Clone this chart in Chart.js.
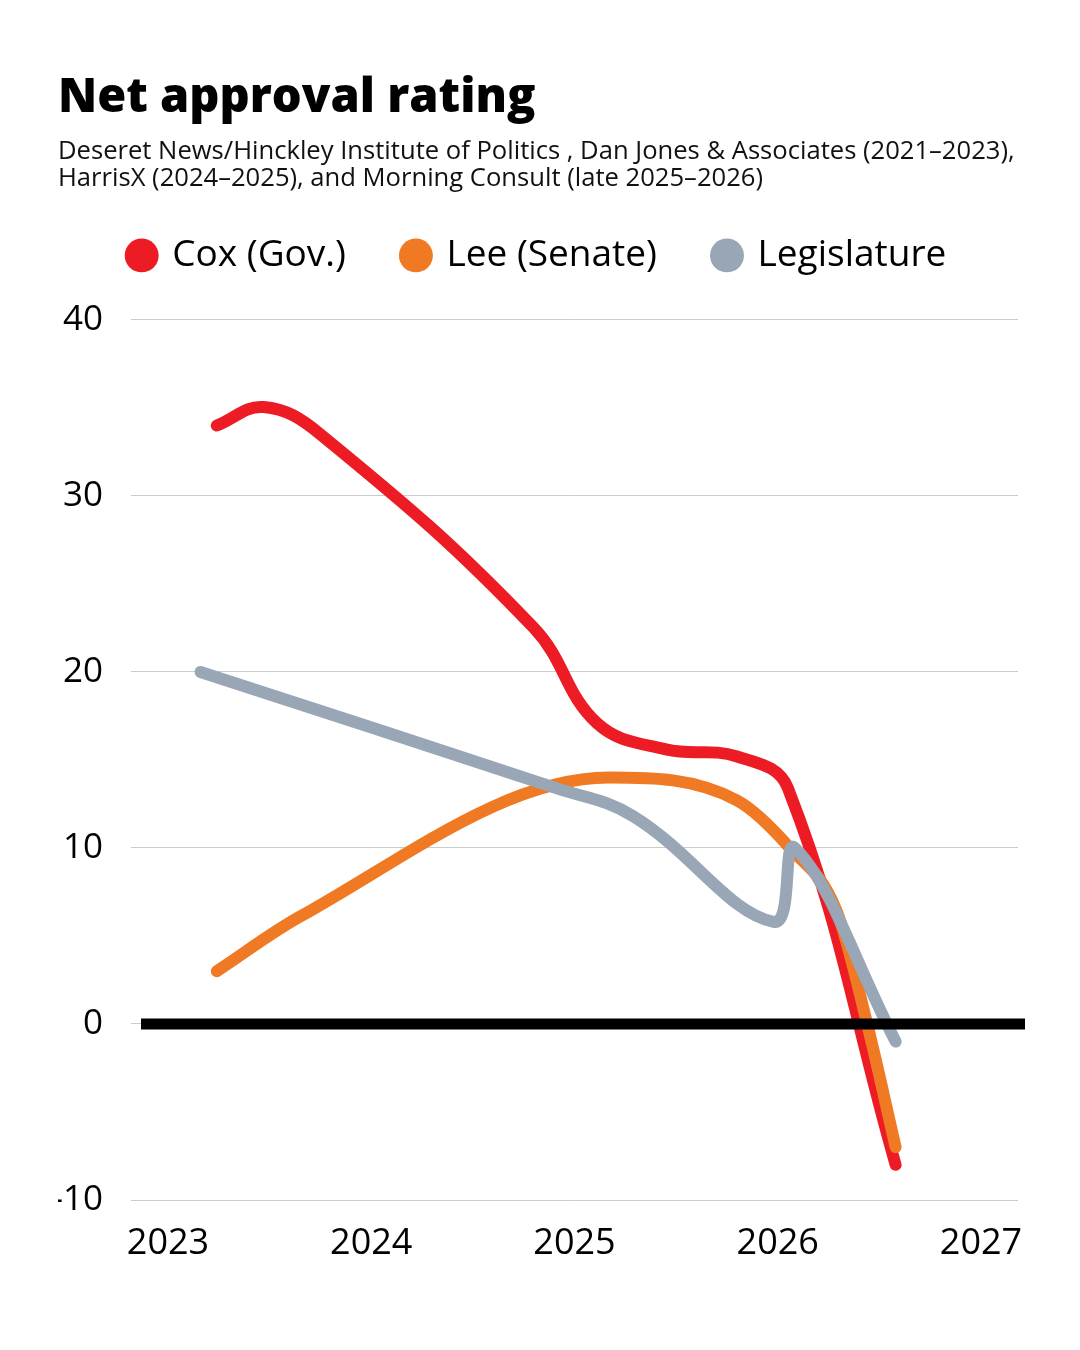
<!DOCTYPE html>
<html>
<head>
<meta charset="utf-8">
<title>Net approval rating</title>
<script src="https://cdn.jsdelivr.net/npm/chart.js@4.4.1/dist/chart.umd.min.js"></script>
<style>
  html, body { margin: 0; padding: 0; background: #fff; }
  #wrap { width: 1080px; height: 1350px; }
</style>
</head>
<body>
<div id="wrap"><canvas id="approvalChart" width="1080" height="1350"></canvas></div>
<script>
// Poll dates (decimal years) and net approval values
const coxDates = [2023.24, 2023.47, 2023.75, 2024.8, 2025.11, 2025.45, 2025.8, 2026.05, 2026.58];
const coxValues = [34, 35.05, 33.5, 22.5, 17.1, 15.6, 15.2, 13.4, -8];
const leeDates = [2023.24, 2023.65, 2025.17, 2025.8, 2026.06, 2026.29, 2026.44, 2026.58];
const leeValues = [3, 6.1, 14, 12.7, 10, 6.4, 0, -7];
const legDates = [2023.16, 2024.91, 2025.29, 2025.98, 2026.085, 2026.58];
const legValues = [20, 13.4, 11.8, 5.8, 10, -1];

const yearTicks = [2023, 2024, 2025, 2026, 2027];
const valueTicks = [-10, 0, 10, 20, 30, 40];

const FONT = "'Open Sans', 'Noto Sans', sans-serif";

function toPoints(dates, values) {
  return dates.map((d, i) => ({ x: d, y: values[i] }));
}

// thick black zero line drawn on top of the lines
const zeroLine = {
  id: "zeroLine",
  afterDatasetsDraw(chart) {
    const { ctx, chartArea, scales } = chart;
    const y = scales.y.getPixelForValue(0);
    ctx.save();
    ctx.strokeStyle = "#000";
    ctx.lineWidth = 11;
    ctx.beginPath();
    ctx.moveTo(chartArea.left + 10, y);
    ctx.lineTo(chartArea.right + 7, y);
    ctx.stroke();
    ctx.restore();
  },
};

// extra room between the legend row and the plot
const legendGap = {
  id: "legendGap",
  beforeLayout(chart) {
    const legend = chart.legend;
    if (legend && !legend._gapPatched) {
      const fit = legend.fit.bind(legend);
      legend.fit = function () {
        fit();
        this.height += 36;
      };
      legend._gapPatched = true;
    }
  },
};

const lineStyle = {
  borderWidth: 12,
  borderCapStyle: "round",
  borderJoinStyle: "round",
  pointRadius: 0,
  pointHoverRadius: 0,
  fill: false,
  tension: 0.4,
};

new Chart(document.getElementById("approvalChart"), {
  type: "line",
  data: {
    datasets: [
      { label: "Cox (Gov.)", data: toPoints(coxDates, coxValues), borderColor: "#ED1C24", backgroundColor: "#ED1C24", order: 2, ...lineStyle },
      { label: "Lee (Senate)", data: toPoints(leeDates, leeValues), borderColor: "#F07A23", backgroundColor: "#F07A23", order: 1, ...lineStyle, cubicInterpolationMode: "monotone" },
      { label: "Legislature", data: toPoints(legDates, legValues), borderColor: "#98A6B5", backgroundColor: "#98A6B5", order: 0, ...lineStyle },
    ],
  },
  options: {
    responsive: false,
    animation: false,
    layout: { padding: { top: 70, left: 58, right: 62, bottom: 0 } },
    plugins: {
      title: {
        display: true,
        text: "Net approval rating",
        align: "start",
        color: "#000",
        font: { family: FONT, size: 47, weight: "800" },
        padding: { top: 0, bottom: 12 },
      },
      subtitle: {
        display: true,
        text: [
          "Deseret News/Hinckley Institute of Politics , Dan Jones & Associates (2021–2023),",
          "HarrisX (2024–2025), and Morning Consult (late 2025–2026)",
        ],
        align: "start",
        color: "#111",
        font: { family: FONT, size: 25.6, lineHeight: "27px" },
        padding: { top: 0, bottom: -13.5 },
      },
      legend: {
        display: true,
        labels: {
          usePointStyle: true,
          pointStyle: "circle",
          boxWidth: 24,
          boxHeight: 24,
          padding: 58,
          color: "#000",
          font: { family: FONT, size: 37 },
          sort: (a, b) => a.datasetIndex - b.datasetIndex,
          generateLabels: (chart) =>
            Chart.defaults.plugins.legend.labels.generateLabels(chart).map((item) => ({ ...item, lineWidth: 0 })),
        },
      },
      tooltip: { enabled: false },
    },
    scales: {
      x: {
        type: "linear",
        min: 2022.818,
        max: 2027.182,
        afterBuildTicks: (scale) => {
          scale.ticks = yearTicks.map((v) => ({ value: v }));
        },
        ticks: {
          color: "#000",
          font: { family: FONT, size: 36 },
          padding: 22,
          maxRotation: 0,
          callback: (v) => String(v),
        },
        grid: { display: false, drawTicks: false },
        border: { display: false },
        afterFit: (scale) => { scale.height = 150; },
      },
      y: {
        min: -10,
        max: 40,
        afterBuildTicks: (scale) => {
          scale.ticks = valueTicks.map((v) => ({ value: v }));
        },
        ticks: {
          color: "#000",
          font: { family: FONT, size: 35 },
          padding: 28,
          callback: (v) => String(v),
        },
        grid: { color: "#cccccc", lineWidth: 1, drawTicks: false },
        border: { display: false },
        afterFit: (scale) => { scale.width = 73; },
      },
    },
  },
  plugins: [zeroLine, legendGap],
});
</script>
</body>
</html>
